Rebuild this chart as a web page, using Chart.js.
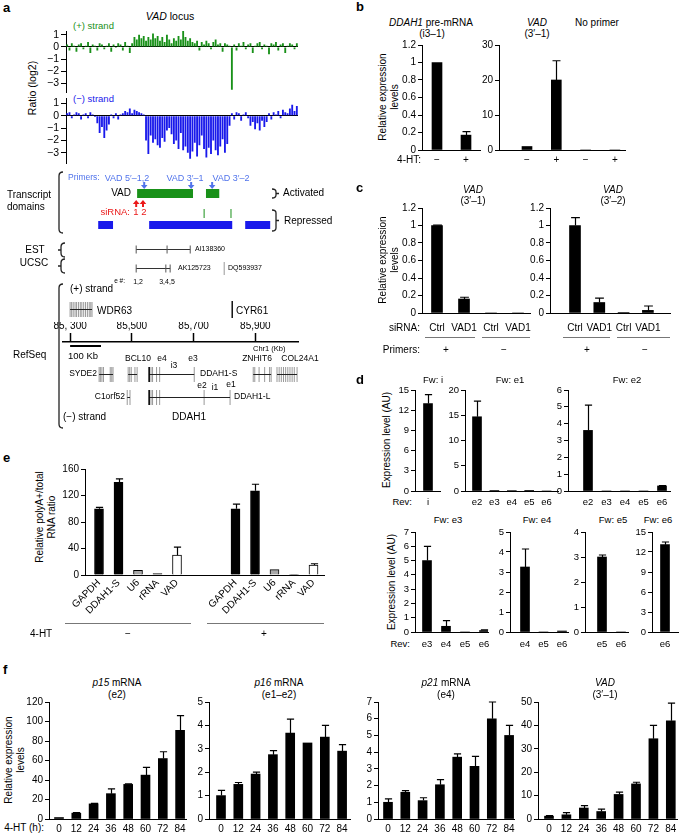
<!DOCTYPE html>
<html><head><meta charset="utf-8">
<script src="https://cdn.jsdelivr.net/npm/chart.js@4.4.1/dist/chart.umd.min.js"></script>
<style>
html,body{margin:0;padding:0;background:#fff;}
body{width:685px;height:833px;position:relative;overflow:hidden;font-family:'Liberation Sans',Arial,Helvetica,sans-serif;color:#000;}
canvas{position:absolute;}
.t{position:absolute;white-space:nowrap;line-height:1.15;}
.ln{position:absolute;height:0;border-top:1px solid #777;}
</style></head><body>
<script>
// ================= DATA =================
// Panel a: log2 ratio tracks (100 bins across the locus)
const plusStrandRatio = [0.2,-0.3,0.3,0.1,-0.4,0.2,0.3,-0.2,0.1,0.4,-0.5,0.2,0.1,-0.3,0.3,0.2,-0.2,0.1,0.3,-0.4,0.2,-0.1,0.3,0.2,-0.3,0.4,0.1,-0.5,0.3,
 0.8,0.6,1.0,0.7,0.9,0.5,0.8,
 0.6,1.1,0.7,0.9,0.5,0.8,0.4,1.0,0.6,0.3,0.7,0.5,0.9,0.6,1.3,0.8,0.5,0.7,0.4,
 0.3,0.5,-0.3,0.4,0.2,0.5,0.3,-0.2,0.4,0.6,0.2,0.3,-0.4,0.3,0.2,
 0.1,-3.5,
 0.2,-0.3,0.3,0.1,0.4,-0.2,0.2,0.3,-0.5,0.1,0.3,0.4,-0.2,0.2,0.1,-0.6,0.3,0.2,0.4,-0.3,0.2,0.3,-0.5,0.1,0.3,0.2,-0.2,0.3];
const minusStrandRatio = [0.2,0.3,-0.2,0.1,0.3,0.2,-0.3,0.1,0.2,-0.2,0.3,0.1,-0.1,
 -0.6,-1.4,-0.9,-1.8,-1.2,-0.7,
 0.1,-0.2,0.2,-0.3,0.1,0.2,
 0.4,0.3,0.6,0.2,0.5,0.4,0.3,0.2,0.1,
 -2.0,-3.1,-1.6,-2.2,-1.9,-2.4,-2.6,-1.8,-2.1,-1.2,-1.0,-1.5,-2.3,-2.0,-2.7,-1.4,-2.8,-2.5,-3.0,-3.5,-2.9,-2.2,-3.3,-2.4,-1.6,-2.7,-3.4,-2.6,-3.1,-2.0,-2.8,-3.2,-2.5,-1.9,-3.0,-2.3,-0.8,
 0.2,-0.3,0.3,0.2,-0.4,0.1,0.3,-0.2,
 -0.8,-0.5,-1.1,-0.6,-1.2,-0.4,-0.9,-0.5,
 0.2,-0.3,0.3,0.1,0.4,-0.2,0.5,0.3,0.2,0.6,0.9,0.4,0.8];
const trackTicks = [-3,-2,-1,0,1];

// Panel a: genomic annotation (chr1, Kb)
const rulerTicks = [85300,85500,85700,85900];
const rulerLabels = ['85, 300','85,500','85,700','85,900'];
const activatedDomains = [[85517,85698],[85740,85783]];
const repressedDomains = [[85391,85439],[85556,85825],[85867,85948]];
const primerSites = [85540,85692,85760];
const primerNames = ['VAD 5′–1,2','VAD 3′–1','VAD 3′–2'];
const sirnaSites = [85514,85536];
const repressedMarks = [85734,85821];
const estAI138360 = [85514,85614,85689];
const ucscAK125723 = [85514,85610,85624];
const ucscDQ593937 = [85799];
const scaleBar = [85300,85400];
const wdr63 = [85300,85371,[85300,85305,85310,85316,85321,85327,85333,85338,85344,85350,85356,85362,85367,85371]];
const cyr61 = [85825];
const syde2 = [85394,85439,[85394,85398,85403,85408,85430,85435,85439]];
const bcl10 = [85488,85517,[85488,85493,85498,85510,85517]];
const ddah1S = [85556,85702,[85556,85562,85567,85580,85590,85702]];
const znhit6 = [85893,85951,[85893,85898,85912,85930,85946,85951]];
const col24a1 = [85970,86035,[85970,85977,85984,85991,85998,86005,86012,86019,86026,86035]];
const c1orf52 = [85485,85494,[85485,85494]];
const ddah1L = [85556,85818,[85556,85562,85567,85580,85590,85734,85818]];

// Panel b
const bDdahLabels = ['−','+'];
const bDdahValues = [1.0,0.17];
const bDdahErrors = [0,0.04];
const bDdahTicks = [0,0.2,0.4,0.6,0.8,1,1.2];
const bVadLabels = ['−','+','−','+'];
const bVadValues = [1.0,20,0,0];
const bVadErrors = [0,5.5,0,0];
const bVadTicks = [0,10,20,30];

// Panel c
const cLabels = ['Ctrl','VAD1','Ctrl','VAD1'];
const cVad31Values = [1.0,0.16,0,0];
const cVad31Errors = [0.005,0.02,0,0];
const cVad32Values = [1.0,0.12,0.005,0.03];
const cVad32Errors = [0.09,0.05,0,0.05];
const cTicks = [0,0.2,0.4,0.6,0.8,1,1.2];

// Panel d
const dILabels = ['i'];           const dIValues = [13];                       const dIErrors = [1.3];               const dITicks = [0,3,6,9,12,15];
const dE1Labels = ['e2','e3','e4','e5','e6']; const dE1Values = [14.7,0.12,0.1,0.05,0]; const dE1Errors = [3.1,0,0,0,0]; const dE1Ticks = [0,5,10,15,20];
const dE2Labels = ['e2','e3','e4','e5','e6']; const dE2Values = [3.6,0,0,0,0.3];       const dE2Errors = [1.5,0,0,0,0.02]; const dE2Ticks = [0,1,2,3,4,5,6];
const dE3Labels = ['e3','e4','e5','e6'];   const dE3Values = [5.0,0.4,0,0.1];  const dE3Errors = [1.0,0.4,0,0.05]; const dE3Ticks = [0,1,2,3,4,5,6,7];
const dE4Labels = ['e4','e5','e6'];        const dE4Values = [3.25,0,0.05];    const dE4Errors = [0.9,0,0];         const dE4Ticks = [0,1,2,3,4,5];
const dE5Labels = ['e5','e6'];             const dE5Values = [3.0,0];          const dE5Errors = [0.08,0];          const dE5Ticks = [0,1,2,3,4];
const dE6Labels = ['e6'];                  const dE6Values = [13.1];           const dE6Errors = [0.4];             const dE6Ticks = [0,3,6,9,12,15];

// Panel e
const eLabels = ['GAPDH','DDAH1-S','U6','rRNA','VAD'];
const eMinusValues = [100,140,7,2,30];
const eMinusErrors = [2,5,0,0,12];
const ePlusValues = [100,127,8,1,15];
const ePlusErrors = [7,10,0,0,2];
const eTicks = [0,40,80,120,160];

// Panel f
const fHours = ['0','12','24','36','48','60','72','84'];
const fP15Values = [1.5,6,15.5,26,35.5,45,62,91];      const fP15Errors = [0,0.6,0.6,5,0.6,8,7,15];          const fP15Ticks = [0,20,40,60,80,100,120];
const fP16Values = [1.0,1.48,1.92,2.75,3.67,3.25,3.5,2.9]; const fP16Errors = [0.22,0.08,0.08,0.17,0.6,0,0.5,0.28]; const fP16Ticks = [0,1,2,3,4,5];
const fP21Values = [1.0,1.6,1.1,2.05,3.7,3.15,6.0,5.0];  const fP21Errors = [0.2,0.1,0.17,0.3,0.2,0.6,1.0,0.6];   const fP21Ticks = [0,1,2,3,4,5,6,7];
const fVadValues = [1.2,1.8,4.7,3.2,10.5,15,34.3,42];    const fVadErrors = [0.2,0.9,1.0,1.0,1.0,0.7,5.7,7.5];   const fVadTicks = [0,10,20,30,40,50];

// ================= STYLE / HELPERS =================
Chart.defaults.font.family = "'Liberation Sans', Arial, Helvetica, sans-serif";
Chart.defaults.font.size = 10;
Chart.defaults.color = '#000';
const GREEN = 'rgb(25,145,25)', BLUE = 'rgb(25,25,235)', PBLUE = 'rgb(80,115,235)', RED = 'rgb(235,25,25)';

function T(html, x, y, o = {}) {
  const d = document.createElement('div');
  d.className = 't'; d.innerHTML = html;
  const a = o.a || 'l';
  const tx = a === 'c' ? '-50%' : a === 'r' ? '-100%' : '0';
  d.style.left = x + 'px'; d.style.top = y + 'px';
  d.style.transform = `translate(${tx},-50%)` + (o.rot ? ` rotate(${o.rot}deg)` : '');
  d.style.fontSize = (o.s || 10) + 'px';
  if (o.c) d.style.color = o.c;
  if (o.b) d.style.fontWeight = 'bold';
  if (o.ta) d.style.textAlign = o.ta;
  if (o.lh) d.style.lineHeight = o.lh;
  document.body.appendChild(d);
}
function L(x, y, w) { const d = document.createElement('div'); d.className = 'ln'; d.style.left = x + 'px'; d.style.top = y + 'px'; d.style.width = w + 'px'; document.body.appendChild(d); }
function mkCanvas(left, top, w, h) { const c = document.createElement('canvas'); c.width = w; c.height = h; c.style.left = left + 'px'; c.style.top = top + 'px'; document.body.appendChild(c); return c; }

const errPlugin = {
  id: 'err',
  afterDatasetsDraw(chart) {
    const ctx = chart.ctx, ys = chart.scales.y;
    chart.data.datasets.forEach((ds, di) => {
      if (!ds.errors) return;
      const meta = chart.getDatasetMeta(di);
      ds.errors.forEach((e, i) => {
        if (!e) return;
        const bar = meta.data[i], v = ds.data[i].y;
        const y0 = ys.getPixelForValue(v), y1 = ys.getPixelForValue(v + e);
        const half = ds.capW / 2, x = Math.round(bar.x) + 0.5;
        ctx.save(); ctx.strokeStyle = '#000'; ctx.lineWidth = 1.2;
        ctx.beginPath(); ctx.moveTo(x, y0); ctx.lineTo(x, y1);
        ctx.moveTo(x - half, y1); ctx.lineTo(x + half, y1); ctx.stroke(); ctx.restore();
      });
    });
  }
};

function barPanel(p) {
  const yW = 30, padL = 2, padR = 16, padT = 8, padB = 2, xH = p.xH || 22;
  const plotW = p.endX - p.axisX, plotH = p.bottom - p.top;
  const cv = mkCanvas(p.axisX - yW - padL, p.top - padT, plotW + yW + padL + padR, plotH + padT + xH + padB);
  const slots = p.slots || p.values.map((v, i) => i);
  const fs = p.fs || 10, bw = p.barW || 10;
  new Chart(cv, {
    type: 'bar',
    data: { datasets: [{
      data: p.values.map((v, i) => ({ x: slots[i], y: v })),
      errors: p.errors, capW: bw * 0.8,
      backgroundColor: p.colors || '#000', borderColor: '#000', borderWidth: p.colors ? 1 : 0,
      barThickness: bw
    }] },
    options: {
      responsive: false, animation: false, events: [],
      layout: { padding: { left: padL, right: padR, top: padT, bottom: padB } },
      plugins: { legend: { display: false }, tooltip: { enabled: false } },
      scales: {
        x: {
          type: 'linear', offset: false,
          min: -(p.firstX - p.axisX) / p.step, max: (p.endX - p.firstX) / p.step,
          afterBuildTicks: s => { s.ticks = slots.map(v => ({ value: v })); },
          afterFit: s => { s.height = xH; },
          ticks: { callback: (v, i) => p.labels[i], autoSkip: false, source: 'data', minRotation: p.rot || 0, maxRotation: p.rot || 0, padding: p.xPad || 4, font: { size: fs } },
          grid: { display: true, drawOnChartArea: false, drawTicks: false },
          border: { display: true, color: '#000', width: 1 }
        },
        y: {
          min: 0, max: p.ticks[p.ticks.length - 1],
          afterBuildTicks: s => { s.ticks = p.ticks.map(v => ({ value: v })); },
          afterFit: s => { s.width = yW; },
          ticks: { callback: v => String(v), autoSkip: false, source: 'data', padding: 2, font: { size: fs } },
          grid: { display: true, drawOnChartArea: false, drawTicks: true, tickLength: 4, tickColor: '#000', tickWidth: 1 },
          border: { display: true, color: '#000', width: 1 }
        }
      }
    },
    plugins: [errPlugin]
  });
}

function trackPanel(values, color, top, bottom, yMin, yMax) {
  const axisX = 66, endX = 298, yW = 30, padL = 2, padR = 4, padT = 8, padB = 2;
  const cv = mkCanvas(axisX - yW - padL, top - padT, endX - axisX + yW + padL + padR, bottom - top + padT + padB);
  new Chart(cv, {
    type: 'bar',
    data: { labels: values.map((v, i) => i), datasets: [{ data: values, backgroundColor: color, barPercentage: 1, categoryPercentage: 0.8 }] },
    options: {
      responsive: false, animation: false, events: [],
      layout: { padding: { left: padL, right: padR, top: padT, bottom: padB } },
      plugins: { legend: { display: false }, tooltip: { enabled: false } },
      scales: {
        x: { display: false },
        y: {
          min: yMin, max: yMax,
          afterBuildTicks: s => { s.ticks = trackTicks.map(v => ({ value: v })); },
          afterFit: s => { s.width = yW; },
          ticks: { callback: v => String(v).replace('-', '−'), autoSkip: false, source: 'data', padding: 2, font: { size: 10.5, lineHeight: 1 } },
          grid: { display: true, drawOnChartArea: true, color: c => (c.tick && c.tick.value === 0) ? '#000' : 'rgba(0,0,0,0)', drawTicks: true, tickLength: 5, tickColor: '#000', lineWidth: 1 },
          border: { display: true, color: '#000', width: 1 }
        }
      }
    }
  });
}

// ================= PANEL a =================
T('a', 3, 8, { s: 13, b: true });
T('<i>VAD</i> locus', 170, 16, { a: 'c', s: 10.5 });
T('(+) strand', 73, 26, { s: 9.5, c: GREEN });
T('(−) strand', 73, 99, { s: 9.5, c: BLUE });
T('Ratio (log2)', 32, 88, { a: 'c', rot: -90, s: 10.5 });
trackPanel(plusStrandRatio, GREEN, 31, 98, -3.75, 1.3);
trackPanel(minusStrandRatio, BLUE, 98, 169, -3.9, 1.45);

const GEN_TOP = 170;
const genomePlugin = {
  id: 'genome',
  afterDraw(chart) {
    const ctx = chart.ctx, sx = chart.scales.x;
    const X = v => sx.getPixelForValue(v), Y = p => p - GEN_TOP;
    const seg = (x1, y1, x2, y2, c, w) => { ctx.strokeStyle = c; ctx.lineWidth = w; ctx.beginPath(); ctx.moveTo(x1, y1); ctx.lineTo(x2, y2); ctx.stroke(); };
    const arrow = (x, yFrom, yTo, c) => {
      const dir = yTo > yFrom ? 1 : -1;
      seg(x, yFrom, x, yTo - dir * 3, c, 2);
      ctx.fillStyle = c; ctx.beginPath();
      ctx.moveTo(x - 3.3, yTo - dir * 4); ctx.lineTo(x + 3.3, yTo - dir * 4); ctx.lineTo(x, yTo); ctx.closePath(); ctx.fill();
    };
    ctx.save();
    primerSites.forEach(s => arrow(X(s), Y(182), Y(189), PBLUE));
    activatedDomains.forEach(([s, e]) => { ctx.fillStyle = GREEN; ctx.fillRect(X(s), Y(189), X(e) - X(s), 9); });
    sirnaSites.forEach(s => arrow(X(s), Y(207), Y(200), RED));
    repressedMarks.forEach(m => seg(X(m), Y(209), X(m), Y(218), GREEN, 1));
    repressedDomains.forEach(([s, e]) => { ctx.fillStyle = BLUE; ctx.fillRect(X(s), Y(221), X(e) - X(s), 8); });
    const transcript = (pts, y) => { seg(X(pts[0]), y, X(pts[pts.length - 1]), y, '#333', 1); pts.forEach(p => seg(X(p), y - 4, X(p), y + 4, '#555', 1)); };
    transcript(estAI138360, Y(249.5));
    transcript(ucscAK125723, Y(268.5));
    ucscDQ593937.forEach(p => seg(X(p), Y(262), X(p), Y(275), '#999', 1));
    const gene = (g, y, h) => { g[2].forEach(p => seg(X(p), y - h, X(p), y + h, '#999', 1)); seg(X(g[0]), y, X(g[1]), y, '#222', 1); };
    gene(wdr63, Y(309.5), 7.5);
    seg(X(cyr61[0]), Y(301), X(cyr61[0]), Y(318), '#111', 1.5);
    [syde2, bcl10, ddah1S, znhit6, col24a1].forEach(g => gene(g, Y(374.5), 7.5));
    [c1orf52, ddah1L].forEach(g => gene(g, Y(397.5), 7.5));
    seg(X(ddah1S[0]), Y(367), X(ddah1S[0]), Y(382), '#000', 1.5);
    seg(X(ddah1L[0]), Y(390), X(ddah1L[0]), Y(405), '#000', 1.5);
    seg(X(scaleBar[0]), Y(346), X(scaleBar[1]), Y(346), '#000', 2);
    // brackets
    ctx.strokeStyle = '#222'; ctx.lineWidth = 1.3;
    const bracketL = (x, y1, y2, nub) => {
      ctx.beginPath(); ctx.moveTo(x + 4, y1); ctx.quadraticCurveTo(x, y1, x, y1 + 4); ctx.lineTo(x, y2 - 4); ctx.quadraticCurveTo(x, y2, x + 4, y2);
      if (nub) { const ym = (y1 + y2) / 2; ctx.moveTo(x, ym); ctx.lineTo(x - 3, ym); }
      ctx.stroke();
    };
    const bracketR = (x, y1, y2, nub) => {
      ctx.beginPath(); ctx.moveTo(x - 4, y1); ctx.quadraticCurveTo(x, y1, x, y1 + 3); ctx.lineTo(x, y2 - 3); ctx.quadraticCurveTo(x, y2, x - 4, y2);
      if (nub) { const ym = (y1 + y2) / 2; ctx.moveTo(x, ym); ctx.lineTo(x + 3, ym); }
      ctx.stroke();
    };
    bracketL(59, Y(172), Y(233), false);
    bracketL(61, Y(243), Y(257), true);
    bracketL(61, Y(259), Y(273), true);
    bracketL(59, Y(284), Y(428), false);
    bracketR(276, Y(189), Y(198), true);
    bracketR(276, Y(210), Y(231), true);
    ctx.restore();
  }
};
const gcv = mkCanvas(0, GEN_TOP, 350, 265);
new Chart(gcv, {
  type: 'scatter',
  data: { datasets: [] },
  options: {
    responsive: false, animation: false, events: [],
    layout: { padding: { left: 63, right: 52, top: 152, bottom: 4 } },
    plugins: { legend: { display: false }, tooltip: { enabled: false } },
    scales: {
      x: {
        type: 'linear', position: 'top', min: 85277, max: 86038,
        afterBuildTicks: s => { s.ticks = rulerTicks.map(v => ({ value: v })); },
        afterFit: s => { s.height = 20; },
        ticks: { callback: (v, i) => rulerLabels[i], padding: 1, autoSkip: false, source: 'data', maxRotation: 0, font: { size: 10 } },
        grid: { display: true, drawOnChartArea: false, drawTicks: true, tickLength: 9, tickColor: '#000', tickWidth: 1.5 },
        border: { display: true, color: '#000', width: 1.5 }
      },
      y: { display: false, min: 0, max: 1 }
    }
  },
  plugins: [genomePlugin]
});
T('Primers:', 68, 178, { s: 8.5, c: PBLUE });
T(primerNames[0], 127, 178, { a: 'c', s: 9, c: PBLUE });
T(primerNames[1], 185, 178, { a: 'c', s: 9, c: PBLUE });
T(primerNames[2], 231, 178, { a: 'c', s: 9, c: PBLUE });
T('VAD', 131, 193, { a: 'r', s: 10 });
T('Activated', 283, 193, { s: 10 });
T('Repressed', 284, 221, { s: 10 });
T('siRNA:', 130, 212, { a: 'r', s: 9.5, c: RED });
T('1', 136, 212, { a: 'c', s: 9.5, c: RED });
T('2', 144, 212, { a: 'c', s: 9.5, c: RED });
T('Transcript<br>domains', 29, 201, { a: 'c', s: 10, ta: 'left', lh: '1.2' });
T('EST', 35, 250, { a: 'c', s: 10 });
T('UCSC', 34, 263, { a: 'c', s: 10 });
T('AI138360', 195, 249, { s: 7 });
T('AK125723', 178, 268, { s: 7 });
T('DQ593937', 228, 268, { s: 7 });
T('e #:', 125, 281, { a: 'r', s: 6.5 });
T('1,2', 138, 282, { a: 'c', s: 7 });
T('3,4,5', 167, 282, { a: 'c', s: 7 });
T('(+) strand', 70, 289, { s: 10 });
T('WDR63', 97, 311, { s: 10 });
T('CYR61', 236, 311, { s: 10 });
T('Chr1 (Kb)', 253, 349, { s: 7.5 });
T('100 Kb', 68, 356, { s: 9.5 });
T('RefSeq', 13, 355, { s: 10 });
T('BCL10', 138, 359, { a: 'c', s: 8.5 });
T('e4', 162, 359, { a: 'c', s: 8.5 });
T('e3', 193, 359, { a: 'c', s: 8.5 });
T('ZNHIT6', 257, 359, { a: 'c', s: 8.5 });
T('COL24A1', 300, 359, { a: 'c', s: 8.5 });
T('SYDE2', 97, 374, { a: 'r', s: 8.5 });
T('i3', 174, 366, { a: 'c', s: 8.5 });
T('DDAH1-S', 200, 374, { s: 8.5 });
T('C1orf52', 125, 397, { a: 'r', s: 8.5 });
T('e2', 202, 386, { a: 'c', s: 8.5 });
T('i1', 215, 388, { a: 'c', s: 8.5 });
T('e1', 231, 385, { a: 'c', s: 8.5 });
T('DDAH1-L', 234, 397, { s: 8.5 });
T('DDAH1', 189, 417, { a: 'c', s: 10 });
T('(−) strand', 63, 417, { s: 10 });

// ================= PANEL b =================
T('b', 356, 7, { s: 13, b: true });
T('<i>DDAH1</i> pre-mRNA', 431, 23, { a: 'c' });
T('(i3–1)', 432, 34, { a: 'c' });
T('<i>VAD</i>', 537, 23, { a: 'c' });
T('(3′–1)', 537, 34, { a: 'c' });
T('No primer', 597, 23, { a: 'c' });
T('Relative expression<br>levels', 388, 97, { a: 'c', rot: -90, ta: 'center' });
T('4-HT:', 421, 160, { a: 'r' });
barPanel({ axisX: 422, endX: 480, firstX: 437, step: 29, top: 45, bottom: 150, labels: bDdahLabels, values: bDdahValues, errors: bDdahErrors, ticks: bDdahTicks, barW: 10, xPad: 4 });
barPanel({ axisX: 499, endX: 625, firstX: 527, step: 29.3, top: 45, bottom: 150, labels: bVadLabels, values: bVadValues, errors: bVadErrors, ticks: bVadTicks, barW: 10, xPad: 4 });

// ================= PANEL c =================
T('c', 356, 188, { s: 13, b: true });
T('<i>VAD</i>', 473, 190, { a: 'c' });
T('(3′–1)', 473, 201, { a: 'c' });
T('<i>VAD</i>', 613, 190, { a: 'c' });
T('(3′–2)', 613, 201, { a: 'c' });
T('Relative expression<br>levels', 388, 260, { a: 'c', rot: -90, ta: 'center' });
barPanel({ axisX: 422, endX: 530, firstX: 437, step: 27, top: 208, bottom: 313, labels: cLabels, values: cVad31Values, errors: cVad31Errors, ticks: cTicks, barW: 11, xPad: 9 });
barPanel({ axisX: 550, endX: 670, firstX: 575, step: 24.3, top: 208, bottom: 313, labels: cLabels, values: cVad32Values, errors: cVad32Errors, ticks: cTicks, barW: 11, xPad: 9 });
T('siRNA:', 420, 328, { a: 'r' });
T('Primers:', 420, 350, { a: 'r' });
L(425, 337, 50); L(482, 337, 48); L(563, 337, 47); L(617, 337, 53);
T('+', 446, 350, { a: 'c' }); T('−', 504, 350, { a: 'c' });
T('+', 587, 350, { a: 'c' }); T('−', 645, 350, { a: 'c' });

// ================= PANEL d =================
T('d', 356, 380, { s: 13, b: true });
T('Fw: i', 433, 380, { a: 'c', s: 9.5 });
T('Fw: e1', 510, 380, { a: 'c', s: 9.5 });
T('Fw: e2', 627, 380, { a: 'c', s: 9.5 });
T('Fw: e3', 448, 520, { a: 'c', s: 9.5 });
T('Fw: e4', 537, 520, { a: 'c', s: 9.5 });
T('Fw: e5', 613, 520, { a: 'c', s: 9.5 });
T('Fw: e6', 658, 520, { a: 'c', s: 9.5 });
T('Expression level (AU)', 387, 440, { a: 'c', rot: -90 });
T('Expression level (AU)', 392, 582, { a: 'c', rot: -90 });
T('Rev:', 412, 502, { a: 'r', s: 9.5 });
T('Rev:', 410, 644, { a: 'r', s: 9.5 });
const dTop = { top: 390, bottom: 491, barW: 9, xPad: 6, fs: 9.5 };
const dBot = { top: 532, bottom: 632, barW: 9, xPad: 7, fs: 9.5 };
barPanel({ ...dTop, axisX: 415, endX: 440, firstX: 428, step: 18, labels: dILabels, values: dIValues, errors: dIErrors, ticks: dITicks });
barPanel({ ...dTop, axisX: 465, endX: 558, firstX: 477, step: 17.4, labels: dE1Labels, values: dE1Values, errors: dE1Errors, ticks: dE1Ticks });
barPanel({ ...dTop, axisX: 568, endX: 670, firstX: 588, step: 18.5, labels: dE2Labels, values: dE2Values, errors: dE2Errors, ticks: dE2Ticks });
barPanel({ ...dBot, axisX: 415, endX: 488, firstX: 427, step: 19, labels: dE3Labels, values: dE3Values, errors: dE3Errors, ticks: dE3Ticks });
barPanel({ ...dBot, axisX: 510, endX: 568, firstX: 525, step: 18.5, labels: dE4Labels, values: dE4Values, errors: dE4Errors, ticks: dE4Ticks });
barPanel({ ...dBot, axisX: 585, endX: 628, firstX: 602, step: 19, labels: dE5Labels, values: dE5Values, errors: dE5Errors, ticks: dE5Ticks });
barPanel({ ...dBot, axisX: 652, endX: 678, firstX: 665, step: 20, labels: dE6Labels, values: dE6Values, errors: dE6Errors, ticks: dE6Ticks });

// ================= PANEL e =================
T('e', 3, 458, { s: 13, b: true });
T('Relative polyA+/total<br>RNA ratio', 46, 517, { a: 'c', rot: -90, ta: 'center', lh: '1.2' });
const eColors = ['#000', '#000', '#a8a8a8', '#a8a8a8', '#fff'];
barPanel({ axisX: 85, endX: 324, firstX: 99, step: 19.5, top: 469, bottom: 575,
  slots: [0, 1, 2, 3, 4, 7, 8, 9, 10, 11],
  labels: eLabels.concat(eLabels), values: eMinusValues.concat(ePlusValues), errors: eMinusErrors.concat(ePlusErrors),
  colors: eColors.concat(eColors), ticks: eTicks, barW: 9, rot: 45, xH: 60, xPad: 2 });
L(65, 623, 126); L(207, 623, 117);
T('4-HT', 30, 634);
T('−', 128, 634, { a: 'c' });
T('+', 264, 634, { a: 'c' });

// ================= PANEL f =================
T('f', 3, 670, { s: 13, b: true });
T('Relative expression<br>levels', 14, 760, { a: 'c', rot: -90, ta: 'center' });
T('4-HT (h):', 44, 828, { a: 'r' });
T('<i>p15</i> mRNA', 117, 683, { a: 'c' }); T('(e2)', 117, 695, { a: 'c' });
T('<i>p16</i> mRNA', 279, 683, { a: 'c' }); T('(e1–e2)', 279, 695, { a: 'c' });
T('<i>p21</i> mRNA', 446, 683, { a: 'c' }); T('(e4)', 446, 695, { a: 'c' });
T('<i>VAD</i>', 605, 683, { a: 'c' }); T('(3′–1)', 605, 695, { a: 'c' });
const fRow = { top: 702, bottom: 819, barW: 9, xPad: 4, step: 17.3, labels: fHours };
barPanel({ ...fRow, axisX: 49, endX: 186, firstX: 59, values: fP15Values, errors: fP15Errors, ticks: fP15Ticks });
barPanel({ ...fRow, axisX: 209, endX: 350, firstX: 221, values: fP16Values, errors: fP16Errors, ticks: fP16Ticks });
barPanel({ ...fRow, axisX: 378, endX: 514, firstX: 388, values: fP21Values, errors: fP21Errors, ticks: fP21Ticks });
barPanel({ ...fRow, axisX: 538, endX: 677, firstX: 549, step: 17.4, values: fVadValues, errors: fVadErrors, ticks: fVadTicks });
</script>
</body></html>
